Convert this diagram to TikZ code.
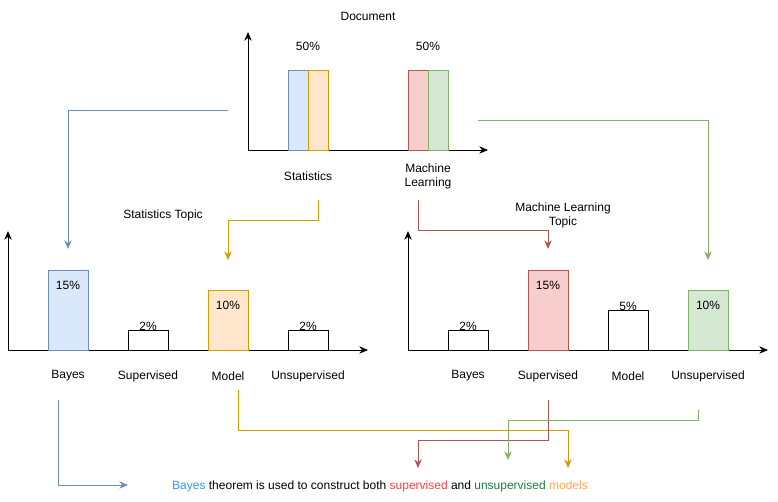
\documentclass[tikz,border=0pt]{standalone}
\usepackage{fontspec}
\setmainfont{Liberation Sans}
\usepackage{xcolor}
\usetikzlibrary{arrows.meta,positioning}

\definecolor{bluefill}{HTML}{DAE8FC}
\definecolor{blueline}{HTML}{6C8EBF}
\definecolor{orangefill}{HTML}{FFE6CC}
\definecolor{orangeline}{HTML}{D79B00}
\definecolor{redfill}{HTML}{F8CECC}
\definecolor{redline}{HTML}{B85450}
\definecolor{greenfill}{HTML}{D5E8D4}
\definecolor{greenline}{HTML}{82B366}
\definecolor{bayestxt}{HTML}{3399FF}
\definecolor{suptxt}{HTML}{FF4040}
\definecolor{unsuptxt}{HTML}{1E7B46}
\definecolor{modeltxt}{HTML}{FFA64D}

\begin{document}
\begin{tikzpicture}[
    x=0.75pt, y=-0.75pt,
    font=\fontsize{9}{10.5}\selectfont,
    bar/.style={draw, line width=0.75pt, minimum width=30pt, inner sep=0pt, outer sep=0pt, anchor=south},
    thinbar/.style={bar, minimum width=15pt},
    label/.style={align=center, inner sep=1pt},
    axis/.style={-{Stealth[length=6.5pt, width=5.5pt, inset=2pt]}, line width=0.75pt},
    link/.style={-{Stealth[length=6.5pt, width=5.5pt, inset=2pt]}, line width=0.75pt}
]
    \useasboundingbox (0,0) rectangle (778,501);

    % Document chart
    \coordinate (dorig) at (248,150);
    \draw[axis] (dorig) -- (488,150);
    \draw[axis] (dorig) -- (248,32);
    \node[thinbar, minimum height=60pt, draw=blueline, fill=bluefill] (dstat1) at (298,150) {};
    \node[thinbar, minimum height=60pt, draw=orangeline, fill=orangefill] (dstat2) at (318,150) {};
    \node[thinbar, minimum height=60pt, draw=redline, fill=redfill] (dml1) at (418,150) {};
    \node[thinbar, minimum height=60pt, draw=greenline, fill=greenfill] (dml2) at (438,150) {};
    \node[label] (dtitle) at (368,16) {Document};
    \node[label] (dstatval) at (308,46) {50\%};
    \node[label] (dmlval) at (428,46) {50\%};
    \node[label] (dstatname) at (308,176) {Statistics};
    \node[label] (dmlname) at (428,176) {Machine\\Learning};

    % Statistics topic chart
    \coordinate (sorig) at (8,350);
    \draw[axis] (sorig) -- (368,350);
    \draw[axis] (sorig) -- (8,231);
    \node[bar, minimum height=60pt, draw=blueline, fill=bluefill] (sbayes) at (68,350) {};
    \node[bar, minimum height=15pt, fill=white] (ssup) at (148,350) {};
    \node[bar, minimum height=45pt, draw=orangeline, fill=orangefill] (smodel) at (228,350) {};
    \node[bar, minimum height=15pt, fill=white] (sunsup) at (308,350) {};
    \node[label] (stitle) at (163,215) {Statistics Topic};
    \node[label] at (68,285) {15\%};
    \node[label] at (148,326) {2\%};
    \node[label] at (228,305) {10\%};
    \node[label] at (308,326) {2\%};
    \node[label] (sbayesname) at (68,376) {Bayes};
    \node[label] at (148,376) {Supervised};
    \node[label] (smodelname) at (228,376) {Model};
    \node[label] at (308,376) {Unsupervised};

    % Machine learning topic chart
    \coordinate (morig) at (408,350);
    \draw[axis] (morig) -- (768,350);
    \draw[axis] (morig) -- (408,231);
    \node[bar, minimum height=15pt, fill=white] (mbayes) at (468,350) {};
    \node[bar, minimum height=60pt, draw=redline, fill=redfill] (msup) at (548,350) {};
    \node[bar, minimum height=30pt, fill=white] (mmodel) at (628,350) {};
    \node[bar, minimum height=45pt, draw=greenline, fill=greenfill] (munsup) at (708,350) {};
    \node[label] (mtitle) at (563,215) {Machine Learning\\Topic};
    \node[label] at (468,326) {2\%};
    \node[label] at (548,285) {15\%};
    \node[label] at (628,306) {5\%};
    \node[label] at (708,305) {10\%};
    \node[label] at (468,376) {Bayes};
    \node[label] (msupname) at (548,376) {Supervised};
    \node[label] at (628,376) {Model};
    \node[label] (munsupname) at (708,376) {Unsupervised};

    % Summary
    \node[label] (summary) at (380,486) {\textcolor{bayestxt}{Bayes} theorem is used to construct both \textcolor{suptxt}{supervised} and \textcolor{unsuptxt}{unsupervised} \textcolor{modeltxt}{models}};

    % Links from document to topics
    \coordinate (bluestart) at (228,110);
    \coordinate (blueend) at (68,249);
    \coordinate (greenstart) at (478,120);
    \coordinate (greenend) at (708,260);
    \coordinate (orangestart) at (318,200);
    \coordinate (orangeend) at (228,260);
    \coordinate (redstart) at (418,200);
    \coordinate (redend) at (548,249);
    \draw[link, blueline] (bluestart) -| (blueend);
    \draw[link, greenline] (greenstart) -| (greenend);
    \draw[link, orangeline] (orangestart) -- (318,220) -| (orangeend);
    \draw[link, redline] (redstart) -- (418,230) -| (redend);

    % Links from topics to summary
    \coordinate (bbstart) at (58,400);
    \coordinate (bbend) at (128,485);
    \coordinate (bostart) at (238,390);
    \coordinate (boend) at (568,468);
    \coordinate (brstart) at (548,400);
    \coordinate (brend) at (418,468);
    \coordinate (bgstart) at (698,410);
    \coordinate (bgend) at (508,460);
    \draw[link, blueline] (bbstart) |- (bbend);
    \draw[link, orangeline] (bostart) -- (238,430) -| (boend);
    \draw[link, redline] (brstart) -- (548,440) -| (brend);
    \draw[link, greenline] (bgstart) -- (698,420) -| (bgend);
\end{tikzpicture}
\end{document}
